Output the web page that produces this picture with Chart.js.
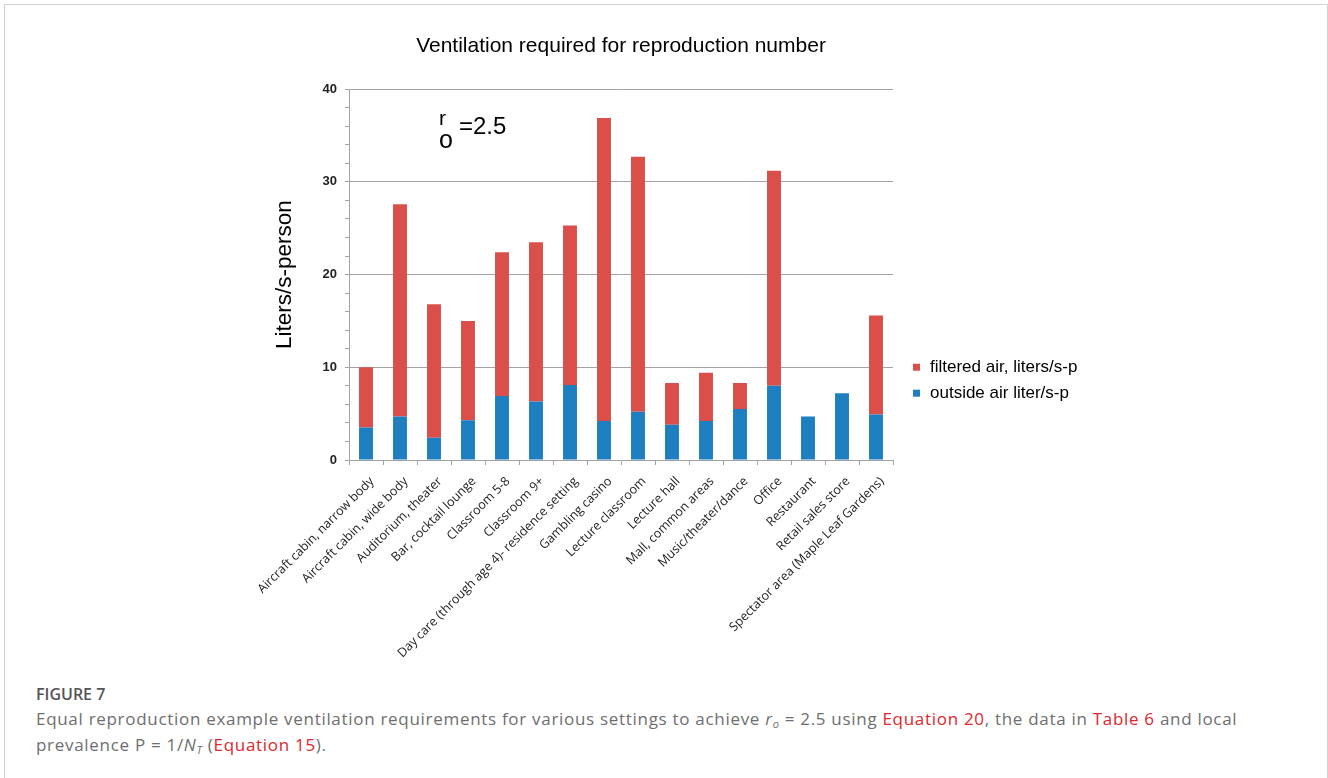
<!DOCTYPE html>
<html>
<head>
<meta charset="utf-8">
<script src="https://cdn.jsdelivr.net/npm/chart.js@4"></script>
<style>
  body { margin: 0; background: #fff; width: 1328px; height: 778px; overflow: hidden; position: relative; }
  #frame { position: absolute; left: 4px; top: 4px; width: 1324px; height: 800px; border: 1px solid #d2d2d2; box-sizing: border-box; }
  #chart { position: absolute; left: 0; top: 0; }
  #fig { position: absolute; left: 36px; top: 681px; font-family: "Open Sans", sans-serif; font-size: 16px; font-weight: 600; color: #555; line-height: 26px; }
  #caption { position: absolute; left: 36px; top: 706px; width: 1260px; font-family: "Open Sans", sans-serif; color: #6e6e6e; font-size: 17px; letter-spacing: 0.7px; line-height: 26px; }
  #caption sub { font-size: 11px; line-height: 0; vertical-align: -3px; }
  #caption a { color: #e0262b; text-decoration: none; }
</style>
</head>
<body>
<div id="frame"></div>
<canvas id="chart" width="1328" height="670"></canvas>
<div id="fig">FIGURE 7</div>
<div id="caption">Equal reproduction example ventilation requirements for various settings to achieve <i>r<sub>o</sub></i> = 2.5 using <a>Equation 20</a>, the data in <a>Table 6</a> and local<br>prevalence P = 1/<i>N<sub>T</sub></i> (<a>Equation 15</a>).</div>
<script>
// settings, in the order they appear along the x axis
const settings = [
    'Aircraft cabin, narrow body',
    'Aircraft cabin, wide body',
    'Auditorium, theater',
    'Bar, cocktail lounge',
    'Classroom 5-8',
    'Classroom 9+',
    'Day care (through age 4)- residence setting',
    'Gambling casino',
    'Lecture classroom',
    'Lecture hall',
    'Mall, common areas',
    'Music/theater/dance',
    'Office',
    'Restaurant',
    'Retail sales store',
    'Spectator area (Maple Leaf Gardens)'
];

// outside air, liters/s per person (bottom of each stack)
const outsideAir = [3.5, 4.7, 2.4, 4.3, 6.9, 6.3, 8.1, 4.2, 5.2, 3.8, 4.2, 5.5, 8.0, 4.7, 7.2, 4.9];

// filtered air, liters/s per person (stacked on top)
const filteredAir = [6.5, 22.9, 14.4, 10.7, 15.5, 17.2, 17.2, 32.7, 27.5, 4.5, 5.2, 2.8, 23.2, 0, 0, 10.7];

const yTicks = [0, 10, 20, 30, 40];

const RED = '#DA4F4A';
const BLUE = '#1E7FC0';
const AXIS = '#a3a3a3';

// legend on the right + the r_o note inside the plot
const extras = {
    id: 'extras',
    afterDraw(chart) {
        const c = chart.ctx;
        const a = chart.chartArea;
        c.save();
        c.fillStyle = '#000';
        c.textBaseline = 'alphabetic';
        c.textAlign = 'left';
        c.font = '21px "Liberation Sans", Arial, sans-serif';
        c.fillText('r', a.left + 90, a.top + 36);
        c.font = '25px "Liberation Sans", Arial, sans-serif';
        c.fillText('o', a.left + 90, a.top + 59);
        c.font = '24px "Liberation Sans", Arial, sans-serif';
        c.fillText('=2.5', a.left + 110, a.top + 45);

        const items = [['filtered air, liters/s-p', RED], ['outside air liter/s-p', BLUE]];
        c.font = '17px "Liberation Sans", Arial, sans-serif';
        c.textBaseline = 'middle';
        items.forEach((it, i) => {
            const y = a.top + 278 + i * 26;
            c.fillStyle = it[1];
            c.fillRect(a.right + 20, y - 3.5, 7, 7);
            c.fillStyle = '#000';
            c.fillText(it[0], a.right + 37, y);
        });
        c.restore();
    }
};

const ctx = document.getElementById('chart').getContext('2d');

const chart = new Chart(ctx, {
    type: 'bar',
    data: {
        labels: settings,
        datasets: [{
            label: 'outside air liter/s-p',
            data: outsideAir,
            backgroundColor: BLUE,
            borderWidth: 0
        }, {
            label: 'filtered air, liters/s-p',
            data: filteredAir,
            backgroundColor: RED,
            borderWidth: 0
        }]
    },
    options: {
        responsive: false,
        animation: false,
        barPercentage: 0.41,
        categoryPercentage: 1,
        layout: { padding: { left: 262, right: 435, top: 0, bottom: 0 } },
        plugins: {
            legend: { display: false },
            tooltip: { enabled: false },
            title: {
                display: true,
                fullSize: false,
                text: 'Ventilation required for reproduction number',
                color: '#000',
                font: { family: '"Liberation Sans", Arial, sans-serif', size: 21, weight: 'normal' },
                padding: { top: 34, bottom: 30 }
            }
        },
        scales: {
            x: {
                stacked: true,
                offset: true,
                grid: { offset: true, drawOnChartArea: false, tickLength: 5, tickColor: AXIS },
                border: { color: AXIS },
                ticks: {
                    autoSkip: false,
                    minRotation: 45,
                    maxRotation: 45,
                    padding: 9,
                    labelOffset: 6,
                    color: '#222',
                    font: { family: '"Open Sans", sans-serif', size: 12.5 }
                },
                afterFit(s) { s.height = 210; }
            },
            y: {
                stacked: true,
                min: 0,
                max: 40,
                grid: {
                    color: c => (c.tick && c.tick.value % 10 === 0 && c.tick.value > 0) ? AXIS : 'transparent',
                    tickColor: AXIS,
                    tickLength: 4
                },
                border: { color: AXIS },
                ticks: {
                    stepSize: 2,
                    autoSkip: false,
                    padding: 8,
                    color: '#222',
                    font: { family: '"Liberation Sans", Arial, sans-serif', size: 13, weight: 'bold' },
                    callback: v => yTicks.includes(v) ? v : ''
                },
                title: {
                    display: true,
                    text: 'Liters/s-person',
                    color: '#000',
                    font: { family: '"Liberation Sans", Arial, sans-serif', size: 22.5 },
                    padding: { top: 9, bottom: 0 }
                },
                afterFit(s) { s.width = 87; }
            }
        }
    },
    plugins: [extras]
});
</script>
</body>
</html>
